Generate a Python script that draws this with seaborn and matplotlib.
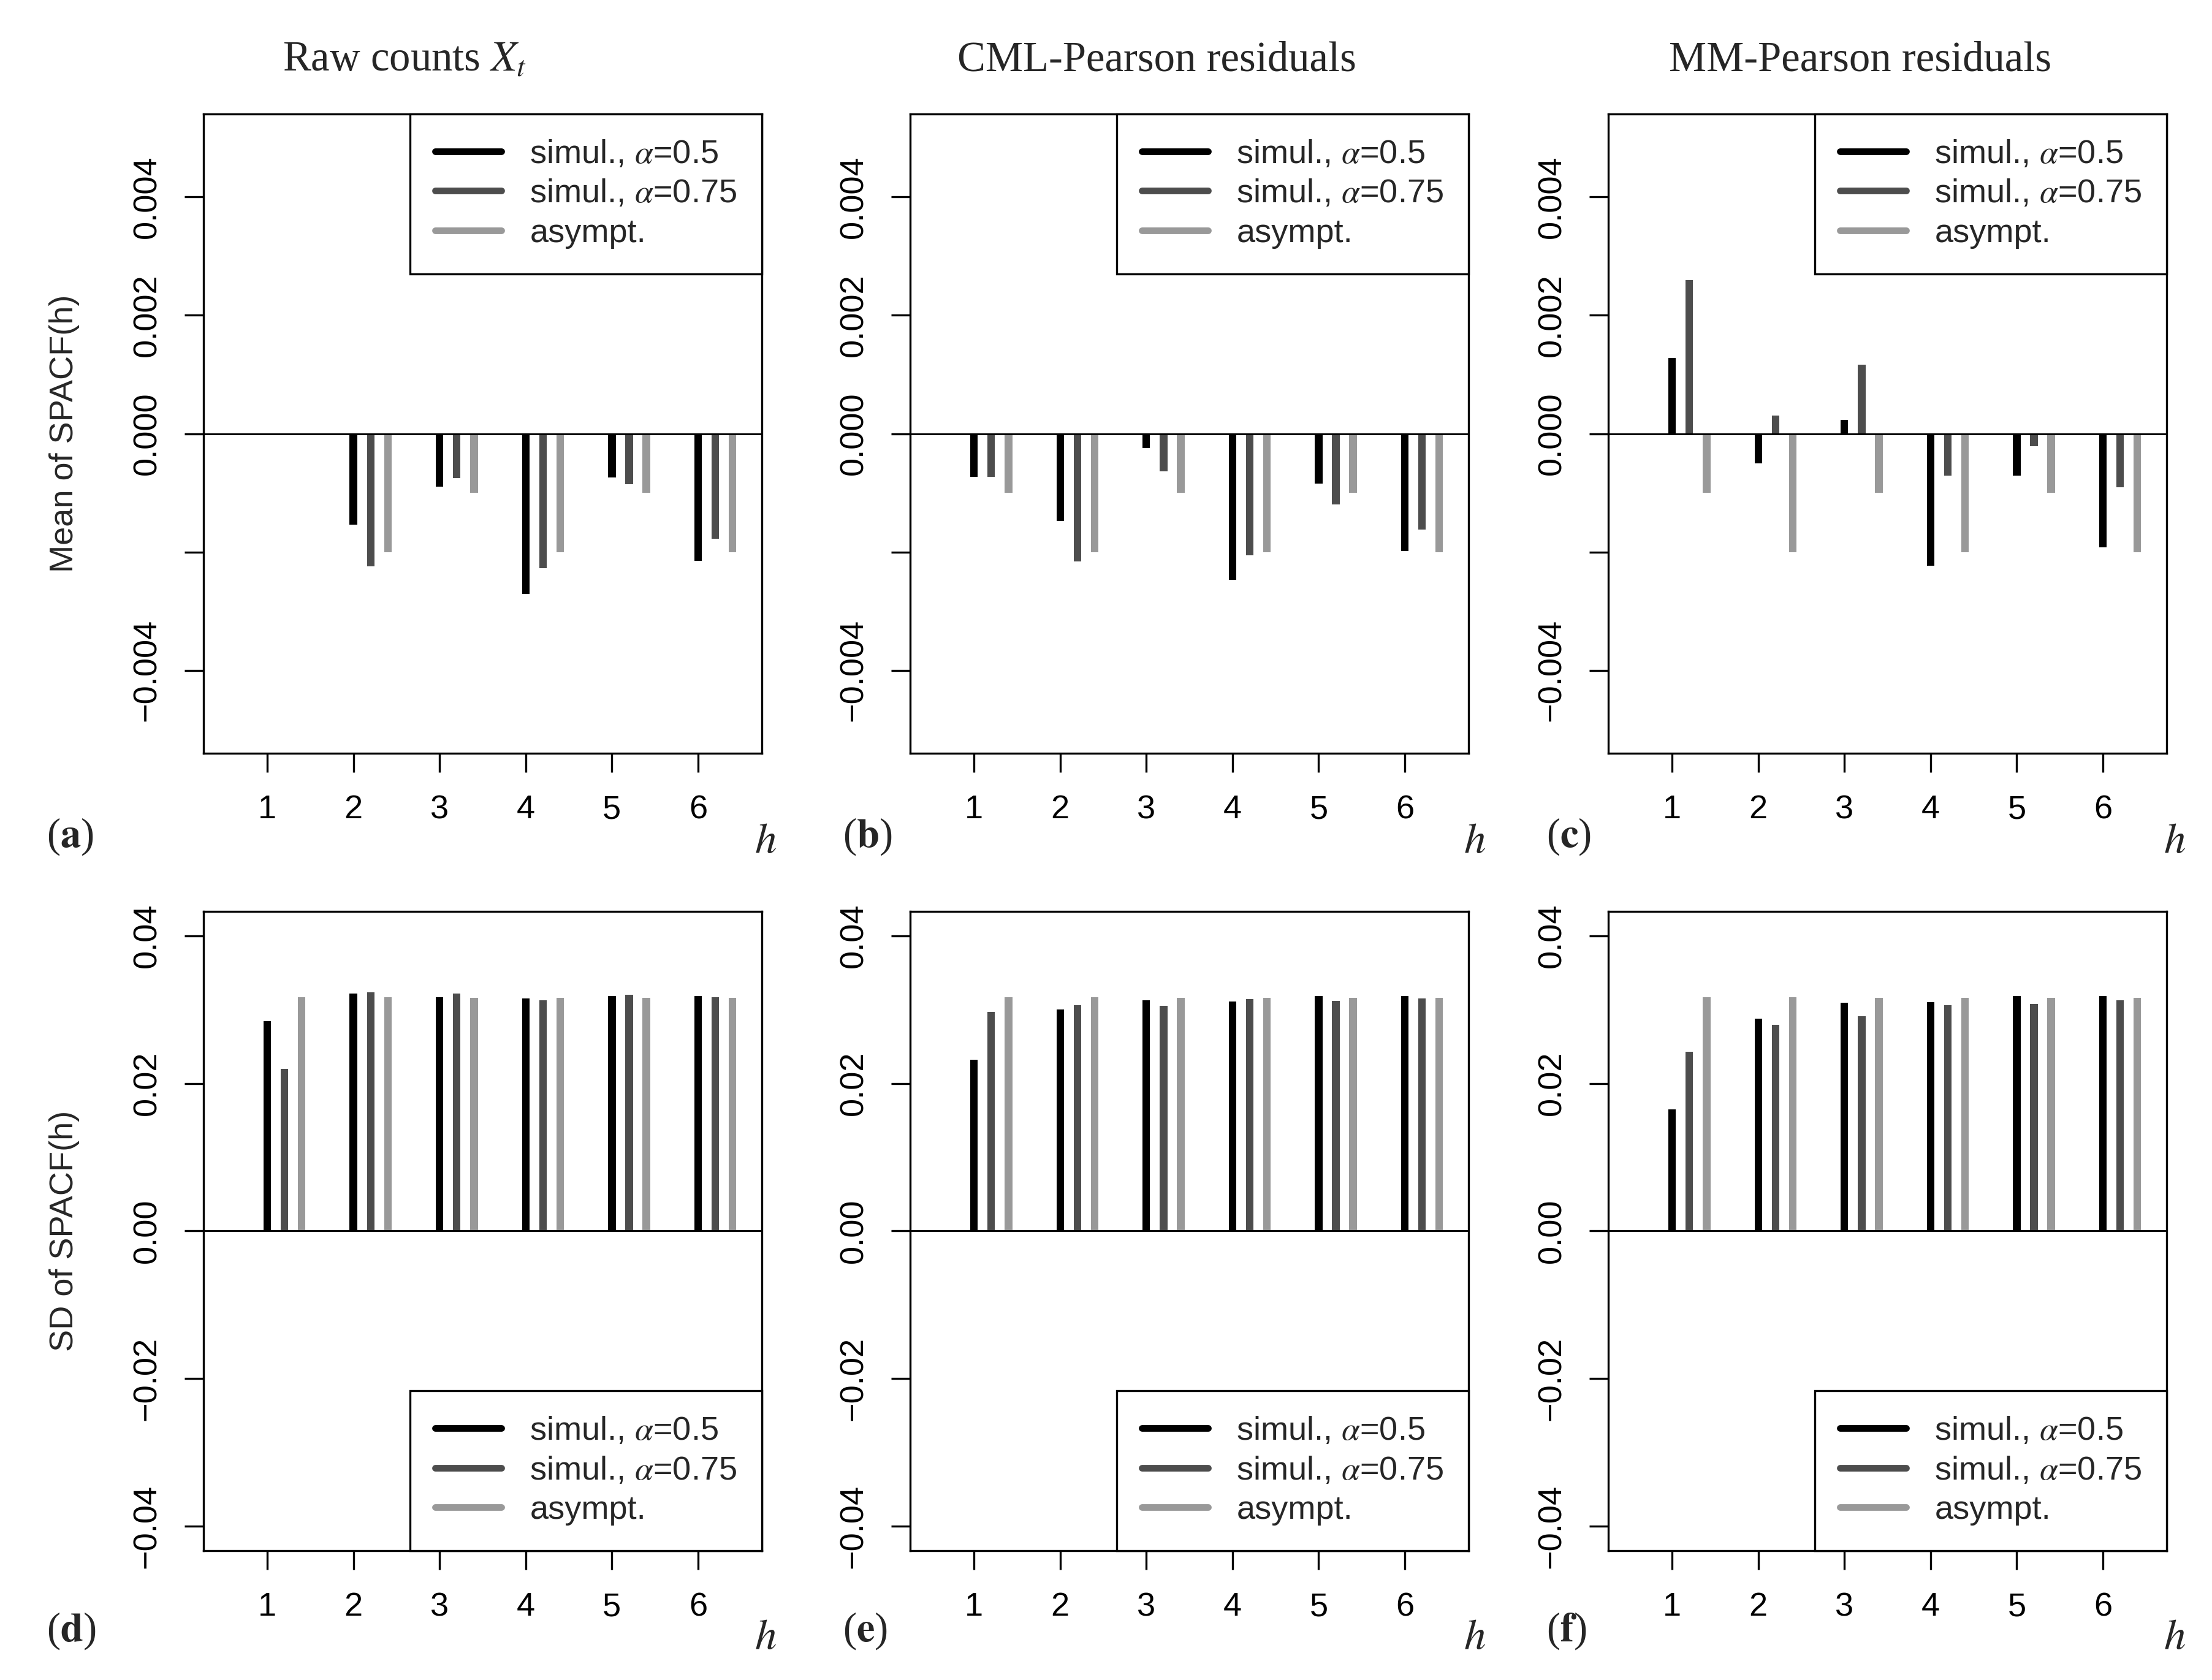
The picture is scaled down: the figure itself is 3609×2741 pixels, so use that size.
import numpy as np
import pandas as pd
import matplotlib
matplotlib.use("Agg")
import matplotlib.pyplot as plt
from matplotlib.lines import Line2D
import seaborn as sns

# lags
h = [1, 2, 3, 4, 5, 6]

# mean of SPACF(h)
mean_raw_a05 = [np.nan, -0.00154, -0.00089, -0.00271, -0.00074, -0.00215]
mean_raw_a075 = [np.nan, -0.00224, -0.00075, -0.00227, -0.00085, -0.00177]
mean_raw_asym = [np.nan, -0.002, -0.001, -0.002, -0.001, -0.002]
mean_cml_a05 = [-0.00073, -0.00147, -0.00024, -0.00247, -0.00084, -0.00198]
mean_cml_a075 = [-0.00073, -0.00216, -0.00064, -0.00205, -0.00119, -0.00162]
mean_cml_asym = [-0.001, -0.002, -0.001, -0.002, -0.001, -0.002]
mean_mm_a05 = [0.00128, -0.0005, 0.00023, -0.00223, -0.00071, -0.00192]
mean_mm_a075 = [0.00259, 0.00031, 0.00117, -0.00071, -0.00021, -0.0009]
mean_mm_asym = [-0.001, -0.002, -0.001, -0.002, -0.001, -0.002]

# SD of SPACF(h)
sd_raw_a05 = [0.0284, 0.0322, 0.0317, 0.0315, 0.0318, 0.0318]
sd_raw_a075 = [0.0220, 0.0323, 0.0322, 0.0313, 0.0320, 0.0317]
sd_raw_asym = [0.0317, 0.0317, 0.0316, 0.0316, 0.0316, 0.0316]
sd_cml_a05 = [0.0232, 0.0300, 0.0313, 0.0311, 0.0318, 0.0318]
sd_cml_a075 = [0.0297, 0.0306, 0.0305, 0.0314, 0.0312, 0.0315]
sd_cml_asym = [0.0317, 0.0317, 0.0316, 0.0316, 0.0316, 0.0316]
sd_mm_a05 = [0.0165, 0.0288, 0.0309, 0.0310, 0.0318, 0.0318]
sd_mm_a075 = [0.0243, 0.0279, 0.0291, 0.0306, 0.0308, 0.0313]
sd_mm_asym = [0.0317, 0.0317, 0.0316, 0.0316, 0.0316, 0.0316]

series = ["simul., $\\alpha$=0.5", "simul., $\\alpha$=0.75", "asympt."]
colors = ["#000000", "#4D4D4D", "#999999"]
offsets = [0.0, 0.2, 0.4]

titles = ["Raw counts $X_t$", "CML-Pearson residuals", "MM-Pearson residuals"]
letters = ["a", "b", "c", "d", "e", "f"]

mean_ticks = [-0.004, -0.002, 0.0, 0.002, 0.004]
mean_ticklabels = ["\u22120.004", "", "0.000", "0.002", "0.004"]
sd_ticks = [-0.04, -0.02, 0.0, 0.02, 0.04]
sd_ticklabels = ["\u22120.04", "\u22120.02", "0.00", "0.02", "0.04"]

panels = [
    (mean_raw_a05, mean_raw_a075, mean_raw_asym),
    (mean_cml_a05, mean_cml_a075, mean_cml_asym),
    (mean_mm_a05, mean_mm_a075, mean_mm_asym),
    (sd_raw_a05, sd_raw_a075, sd_raw_asym),
    (sd_cml_a05, sd_cml_a075, sd_cml_asym),
    (sd_mm_a05, sd_mm_a075, sd_mm_asym),
]

sns.set_style("ticks")
plt.rcParams["font.family"] = ["Liberation Sans", "DejaVu Sans"]
plt.rcParams["mathtext.fontset"] = "stix"
serif = ["Liberation Serif", "DejaVu Serif"]
fs = 13

fig = plt.figure(figsize=(3609 / 300, 2741 / 300), dpi=300)
lefts = [0.092, 0.4115, 0.7271]
bottoms = [0.5516, 0.077]
w, ht = 0.2524, 0.3805

for i, vals in enumerate(panels):
    row, col = divmod(i, 3)
    ax = fig.add_axes([lefts[col], bottoms[row], w, ht])

    df = pd.DataFrame({
        "h": np.tile(h, 3),
        "val": np.concatenate(vals),
        "series": np.repeat(series, len(h)),
        "off": np.repeat(offsets, len(h)),
    })
    df["pos"] = df["h"] + df["off"]
    df = df.dropna()

    sns.barplot(data=df, x="pos", y="val", hue="series", hue_order=series,
                palette=colors, native_scale=True, dodge=False, width=0.44,
                errorbar=None, saturation=1, linewidth=0, legend=False, ax=ax)
    ax.axhline(0, color="black", lw=0.7, zorder=3)

    ax.set_xlim(0.26, 6.74)
    ax.set_xticks(h)
    ax.set_xticklabels([str(v) for v in h])
    if row == 0:
        ax.set_ylim(-0.0054, 0.0054)
        ax.set_yticks(mean_ticks)
        ax.set_yticklabels(mean_ticklabels, rotation=90, va="center")
    else:
        ax.set_ylim(-0.0433, 0.0433)
        ax.set_yticks(sd_ticks)
        ax.set_yticklabels(sd_ticklabels, rotation=90, va="center")

    ax.set_xlabel("")
    ax.set_ylabel("")
    if col == 0:
        ax.set_ylabel("Mean of SPACF(h)" if row == 0 else "SD of SPACF(h)",
                      fontsize=fs, va="center")
        ax.yaxis.set_label_coords(-0.249, 0.5)

    for s in ax.spines.values():
        s.set_color("black")
        s.set_linewidth(0.8)
    ax.tick_params(axis="both", direction="out", length=7.5, width=0.8,
                   pad=8.6, labelsize=fs, colors="black")

    handles = [Line2D([], [], color=c, lw=2.6, solid_capstyle="round") for c in colors]
    leg = ax.legend(handles, series, loc="upper right" if row == 0 else "lower right",
                    fontsize=fs, frameon=True, fancybox=False, framealpha=1,
                    edgecolor="black", borderaxespad=0, borderpad=0.75,
                    handlelength=2.0, handletextpad=0.85, labelspacing=0.27)
    leg.get_frame().set_linewidth(0.8)

    # panel letter and h label
    ly = 0.502 if row == 0 else 0.029
    hy = 0.499 if row == 0 else 0.025
    fig.text([0.021, 0.381, 0.699][col], ly, "($\\mathbf{%s}$)" % letters[i],
             family=serif, fontsize=16, ha="left", va="center")
    fig.text([0.346, 0.6667, 0.983][col], hy, "$h$", fontsize=17,
             ha="center", va="center")

for x, t in zip([0.183, 0.523, 0.841], titles):
    fig.text(x, 0.964, t, family=serif, fontsize=16.5, ha="center", va="center")

fig.savefig("out.png", dpi=300)
